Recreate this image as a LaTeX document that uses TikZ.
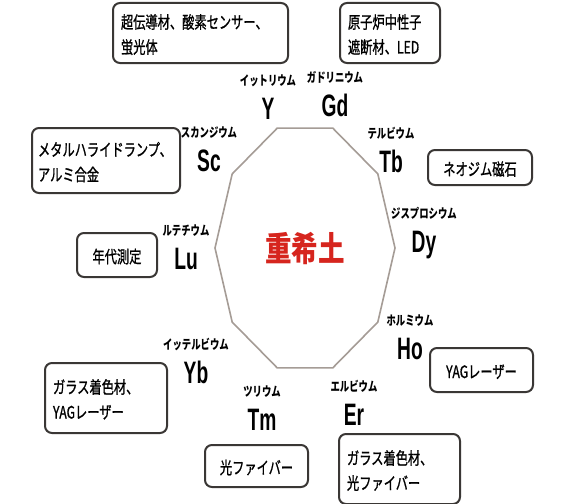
\documentclass[tikz,border=0pt]{standalone}
\usepackage{fontspec}
\usepackage{tikz}
\usetikzlibrary{positioning}
\newfontfamily\jpfont{Noto Sans CJK JP}
\newfontfamily\jpmed[FakeBold=1.2]{Noto Sans CJK JP}
\newfontfamily\symfont{Liberation Sans}
\definecolor{boxgray}{HTML}{3A3735}
\definecolor{ringgray}{HTML}{A59C96}
\definecolor{heavyred}{HTML}{D6251E}
\newcommand{\narrow}[1]{\scalebox{0.62}[1]{#1}}
\newcommand{\kana}[1]{\scalebox{0.72}[1]{#1}}
\newcommand{\usetxt}[1]{\raisebox{-3pt}[\height][\depth]{\scalebox{0.72}[1]{\begin{tabular}{@{}l@{}}#1\end{tabular}}}}

\begin{document}
\begin{tikzpicture}[x=1pt,y=-1pt,node distance=27pt,on grid,
  elsym/.style={font=\symfont\bfseries\fontsize{31pt}{31pt}\selectfont,text height=22pt,text depth=0pt,inner sep=0pt},
  elname/.style={font=\jpfont\bfseries\fontsize{13pt}{13pt}\selectfont,text height=10pt,text depth=1pt,inner sep=0pt},
  usebox/.style={draw=boxgray,line width=2pt,rounded corners=7pt,inner xsep=8pt,inner ysep=0pt,
    font=\jpmed\fontsize{17pt}{25pt}\selectfont},
  ring/.style={draw=ringgray,line width=1.6pt}]
        \useasboundingbox[fill=white] (0,0) rectangle (577,503);
        \node[font=\jpfont\bfseries\fontsize{34pt}{34pt}\selectfont,text=heavyred] (heavy) at (305,248) {\scalebox{0.78}[1]{重希土}};
        \draw[ring] ([shift={(0:90pt and 126pt)}]heavy.center)
          \foreach \a in {36,72,...,324} {-- ([shift={(\a:90pt and 126pt)}]heavy.center)} -- cycle;
        \node[elsym] (s_Y)  at (268,108) {\narrow{Y}};
        \node[elsym] (s_Gd) at (335,105) {\narrow{Gd}};
        \node[elsym] (s_Tb) at (391,161) {\narrow{Tb}};
        \node[elsym] (s_Dy) at (424,241) {\narrow{Dy}};
        \node[elsym] (s_Ho) at (410,348) {\narrow{Ho}};
        \node[elsym] (s_Er) at (354,414) {\narrow{Er}};
        \node[elsym] (s_Tm) at (262,419) {\narrow{Tm}};
        \node[elsym] (s_Yb) at (196,372) {\narrow{Yb}};
        \node[elsym] (s_Lu) at (186,258) {\narrow{Lu}};
        \node[elsym] (s_Sc) at (209,160) {\narrow{Sc}};
        \node[elname] (n_Y)  [above=of s_Y]  {\kana{イットリウム}};
        \node[elname] (n_Gd) [above=of s_Gd] {\kana{ガドリニウム}};
        \node[elname] (n_Tb) [above=of s_Tb] {\kana{テルビウム}};
        \node[elname] (n_Dy) [above=of s_Dy] {\kana{ジスプロシウム}};
        \node[elname] (n_Ho) [above=of s_Ho] {\kana{ホルミウム}};
        \node[elname] (n_Er) [above=of s_Er] {\kana{エルビウム}};
        \node[elname] (n_Tm) [above=of s_Tm] {\kana{ツリウム}};
        \node[elname] (n_Yb) [above=of s_Yb] {\kana{イッテルビウム}};
        \node[elname] (n_Lu) [above=of s_Lu] {\kana{ルテチウム}};
        \node[elname] (n_Sc) [above=of s_Sc] {\kana{スカンジウム}};
        \node[usebox,text width=159pt,minimum height=60pt,align=left] (u_Y) at (200.5,33) {\usetxt{超伝導材、酸素センサー、\\蛍光体}};
        \node[usebox,text width=84pt,minimum height=60pt,align=left] (u_Gd) at (390,33) {\usetxt{原子炉中性子\\遮断材、LED}};
        \node[usebox,inner xsep=6pt,text width=136pt,minimum height=65pt,align=left] (u_Sc) at (106,160.5) {\usetxt{メタルハライドランプ、\\アルミ合金}};
        \node[usebox,text width=88pt,minimum height=35pt,align=center] (u_Tb) at (480,167.5) {\usetxt{ネオジム磁石}};
        \node[usebox,text width=64pt,minimum height=44pt,align=center] (u_Lu) at (117,255) {\usetxt{年代測定}};
        \node[usebox,text width=87pt,minimum height=44pt,align=center] (u_Ho) at (481.5,370) {\usetxt{YAGレーザー}};
        \node[usebox,text width=106pt,minimum height=70pt,align=left] (u_Yb) at (106,398) {\usetxt{ガラス着色材、\\YAGレーザー}};
        \node[usebox,text width=87pt,minimum height=42pt,align=center] (u_Tm) at (256.5,466) {\usetxt{光ファイバー}};
        \node[usebox,text width=105pt,minimum height=70pt,align=left] (u_Er) at (399.5,469) {\usetxt{ガラス着色材、\\光ファイバー}};
      \end{tikzpicture}
\end{document}
